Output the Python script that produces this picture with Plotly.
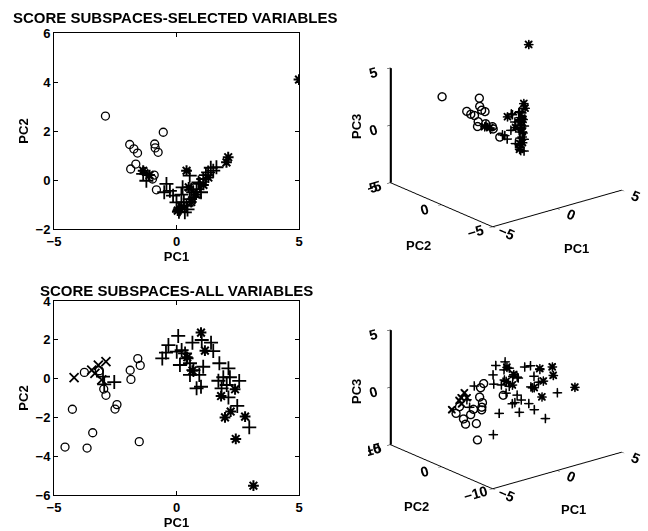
import plotly.graph_objects as go

# ---------------- data ----------------
# top (selected variables)
top_circle_pc1 = [-2.90, -0.54, -1.91, -1.74, -1.59, -0.89, -0.87, -0.75, -1.66, -1.87, -1.32, -0.91, -0.98, -0.82]
top_circle_pc2 = [2.61, 1.95, 1.45, 1.27, 1.10, 1.47, 1.31, 1.13, 0.65, 0.45, 0.35, 0.20, 0.04, -0.40]
top_circle_pc3 = [2.74, 2.12, 1.60, 1.36, 1.27, 1.70, 1.42, 1.33, 0.93, 0.65, 0.76, 0.43, 0.31, -0.28]

top_plus_pc1 = [-0.41, -0.27, -0.14, 0.00, 0.14, 0.34, 0.41, 0.54, 0.68, 0.82, 0.95, 1.09, 1.29, 1.50, 1.63,
                0.54, -1.36, -1.23, 0.20, 0.30, 0.60, 0.75, 0.90, 1.20, 0.10, 0.45, 1.00, 1.40, 0.25, -0.50]
top_plus_pc2 = [-0.16, -0.44, -0.64, -0.91, -1.19, -1.32, -1.05, -0.78, -0.50, -0.37, -0.16, 0.04, 0.31, 0.38, 0.52,
                0.18, 0.25, -0.03, -0.60, -0.90, -0.40, -0.70, -0.10, 0.20, -1.30, -1.20, -0.50, 0.50, -0.30, -0.50]
top_plus_pc3 = [-0.3, -0.6, 0.2, -0.9, -1.2, -1.5, -0.4, 0.5, -0.8, 0.9, -0.2, 0.4, 1.0, -0.5, 0.7,
                1.1, 0.7, 0.4, 0.8, -1.1, 0.3, -0.3, 1.2, -0.7, -1.4, 0.6, -1.0, 0.2, 1.3, -0.2]

top_star_pc1 = [5.00, 2.11, 2.04, 0.41, -1.36, -1.10, 0.20, 0.60, 1.10, 0.50, 0.05, 1.30, 0.80]
top_star_pc2 = [4.10, 0.93, 0.72, 0.38, 0.38, 0.20, -1.10, -0.90, -0.20, -0.30, -1.25, 0.10, -0.60]
top_star_pc3 = [4.20, 1.20, 0.90, 0.80, 0.50, 0.40, -0.90, 1.00, -0.50, 0.10, -1.30, 0.50, -1.20]

# bottom (all variables)
bot_circle_pc1 = [-4.55, -4.25, -3.76, -3.65, -3.42, -3.15, -2.97, -2.88, -2.51, -2.43, -1.89, -1.86, -1.58, -1.48, -1.52]
bot_circle_pc2 = [-3.53, -1.58, 0.32, -3.58, -2.79, 0.41, -0.54, -0.86, -1.57, -1.34, 0.43, -0.04, 1.03, 0.68, -3.25]
bot_circle_pc3 = [-0.75, 0.3, -0.8, -2.4, -1.2, -1.5, -1.0, -0.5, -0.3, -0.6, 0.0, -0.4, 0.6, 1.0, 0.75]

bot_x_pc1 = [-4.18, -2.88, -3.19, -3.46, -3.33, -3.05]
bot_x_pc2 = [0.05, 0.87, 0.70, 0.44, 0.27, -0.07]
bot_x_pc3 = [-0.3, 0.6, 0.3, 0.2, -0.1, 0.4]

bot_plus_pc1 = [-0.58, -0.43, -0.33, 0.07, 0.01, 0.14, 0.35, 0.41, 0.65, 0.55, 0.93, 0.82, 1.00, 1.03, 1.41, 1.50, 1.75,
                2.12, 1.71, 2.18, 2.56, 1.84, 2.05, 2.12, 2.48, 2.97, 0.21, 0.69, 1.09, 0.55, 1.91, -2.54, -3.00, -2.95]
bot_plus_pc2 = [1.04, 1.34, 1.73, 2.20, 1.39, 0.70, 1.30, 1.05, 1.85, 0.19, 0.19, -0.50, -0.42, 1.99, 1.85, 1.42, 0.79,
                0.53, -0.11, 0.07, -0.12, -0.50, -0.33, -0.97, -1.41, -2.51, 1.47, 0.44, 0.61, 0.79, 0.07, -0.18, 0.10, -0.30]
bot_plus_pc3 = [-3.8, 0.5, 1.2, 1.8, -2.2, 0.8, 1.5, -0.5, 2.0, -1.3, 0.9, -2.0, -1.0, 1.3, -1.8, 0.4, 1.4,
                -0.4, -1.6, 0.6, 1.1, -0.2, -2.2, 0.3, -2.9, -0.6, 0.2, 1.0, -0.8, 0.1, 1.6, 1.3, 0.2, -0.4]

bot_star_pc1 = [1.00, 1.16, 0.65, 1.82, 2.39, 1.98, 2.21, 2.80, 2.42, 3.14, 0.44]
bot_star_pc2 = [2.37, 1.44, 0.41, -0.90, -0.55, -2.00, -1.70, -1.96, -3.11, -5.52, 1.10]
bot_star_pc3 = [1.3, 0.8, 0.25, -0.1, 1.3, -0.75, 0.5, 1.6, 1.2, 0.4, 0.5]

x_ticks = [-5, 0, 5]
top_y_ticks = [-2, 0, 2, 4, 6]
bot_y_ticks = [-6, -4, -2, 0, 2, 4]
top_pc2_3d_ticks = [-5, 0, 5]
bot_pc2_3d_ticks = [-10, 0, 10]
pc3_ticks = [-5, 0, 5]
pc1_range = [-5, 5]
top_pc2_range = [-5, 5]
bot_pc2_range = [-10, 10]
pc3_range = [-5, 5]

titles = ["SCORE SUBSPACES-SELECTED VARIABLES", "SCORE SUBSPACES-ALL VARIABLES"]

# ---------------- figure ----------------
W, H = 648, 531
FAM = "Liberation Sans, Arial, sans-serif"
FONT = dict(family=FAM, size=13, color="black", weight="bold")
TFONT = dict(family=FAM, size=15, color="black", weight="bold")
fig = go.Figure()

def px_x(p):
    return p / W

def px_y(p):
    return 1 - p / H

def add2d(xa, ya, px, py, symbol, size, lw):
    fig.add_trace(go.Scatter(x=px, y=py, mode="markers", xaxis=xa, yaxis=ya, showlegend=False,
                             hoverinfo="skip",
                             marker=dict(symbol=symbol, size=size, color="black",
                                         line=dict(color="black", width=lw))))

# top-left 2D
add2d("x", "y", top_circle_pc1, top_circle_pc2, "circle-open", 8, 1.3)
add2d("x", "y", top_plus_pc1, top_plus_pc2, "cross-thin-open", 10, 1.8)
add2d("x", "y", top_star_pc1, top_star_pc2, "asterisk-open", 9, 2.0)
# bottom-left 2D
add2d("x2", "y2", bot_circle_pc1, bot_circle_pc2, "circle-open", 8, 1.3)
add2d("x2", "y2", bot_x_pc1, bot_x_pc2, "x-thin-open", 9, 1.8)
add2d("x2", "y2", bot_plus_pc1, bot_plus_pc2, "cross-thin-open", 10, 1.8)
add2d("x2", "y2", bot_star_pc1, bot_star_pc2, "asterisk-open", 9, 2.0)

def add3d(scene, a, b, c, symbol, size):
    fig.add_trace(go.Scatter3d(x=a, y=b, z=c, mode="markers", scene=scene, showlegend=False,
                               hoverinfo="skip",
                               marker=dict(symbol=symbol, size=size, color="black",
                                           line=dict(color="black", width=1))))

def add_zline(scene, pc1_rng, pc2_rng, ticks):
    # vertical PC3 axis line at the left corner of the box (taken from the axis ranges/ticks,
    # nudged a hair inside so it is not clipped away)
    inset = 0.995
    n = len(ticks)
    fig.add_trace(go.Scatter3d(x=[pc1_rng[0] * inset] * n, y=[pc2_rng[1] * inset] * n,
                               z=[t * inset for t in ticks],
                               mode="lines", scene=scene, showlegend=False, hoverinfo="skip",
                               line=dict(color="black", width=4)))

add3d("scene", top_circle_pc1, top_circle_pc2, top_circle_pc3, "circle-open", 5)
add3d("scene", top_plus_pc1, top_plus_pc2, top_plus_pc3, "cross", 5)
add3d("scene", top_star_pc1, top_star_pc2, top_star_pc3, "cross", 5)
add3d("scene", top_star_pc1, top_star_pc2, top_star_pc3, "x", 1.7)
add_zline("scene", pc1_range, top_pc2_range, pc3_ticks)

add3d("scene2", bot_circle_pc1, bot_circle_pc2, bot_circle_pc3, "circle-open", 5)
add3d("scene2", bot_x_pc1, bot_x_pc2, bot_x_pc3, "x", 1.7)
add3d("scene2", bot_plus_pc1, bot_plus_pc2, bot_plus_pc3, "cross", 5)
add3d("scene2", bot_star_pc1, bot_star_pc2, bot_star_pc3, "cross", 5)
add3d("scene2", bot_star_pc1, bot_star_pc2, bot_star_pc3, "x", 1.7)
add_zline("scene2", pc1_range, bot_pc2_range, pc3_ticks)

ax2d = dict(showgrid=False, zeroline=False, showline=True, linecolor="black", linewidth=1,
            mirror="ticks", ticks="inside", ticklen=4, tickcolor="black", tickwidth=1,
            tickfont=FONT, title_font=FONT, automargin=False)

fig.update_layout(
    width=W, height=H, margin=dict(l=0, r=0, t=0, b=0, autoexpand=False),
    paper_bgcolor="white", plot_bgcolor="white", font=FONT,
    xaxis=dict(ax2d, domain=[px_x(54), px_x(299)], range=pc1_range, tickvals=x_ticks,
               title=dict(text="PC1", standoff=0), anchor="y"),
    yaxis=dict(ax2d, domain=[px_y(229), px_y(33)], range=[-2, 6], tickvals=top_y_ticks,
               title=dict(text="PC2", standoff=4), anchor="x"),
    xaxis2=dict(ax2d, domain=[px_x(54), px_x(299)], range=pc1_range, tickvals=x_ticks,
                title=dict(text="PC1", standoff=0), anchor="y2"),
    yaxis2=dict(ax2d, domain=[px_y(495), px_y(301)], range=[-6, 4], tickvals=bot_y_ticks,
                title=dict(text="PC2", standoff=4), anchor="x2"),
)

def ax3d(rng, ticks):
    return dict(title=dict(text=""), range=rng, tickvals=ticks, showgrid=False,
                zeroline=False, showbackground=False, showline=True, linecolor="black", linewidth=2,
                ticks="outside", tickcolor="black", ticklen=4, tickfont=FONT, showspikes=False,
                autorange=False)

eye_dir = (-0.590, -0.728, 0.350)
d = 2.0
cam = dict(projection=dict(type="orthographic"), up=dict(x=0, y=0, z=1), center=dict(x=0, y=0, z=0),
           eye=dict(x=eye_dir[0] * d, y=eye_dir[1] * d, z=eye_dir[2] * d))
asp = dict(x=1.33, y=1.30, z=0.98)

fig.update_layout(
    scene=dict(domain=dict(x=[px_x(368), px_x(644)], y=[px_y(254), px_y(4)]),
               xaxis=ax3d(pc1_range, x_ticks), yaxis=ax3d(top_pc2_range, top_pc2_3d_ticks),
               zaxis=ax3d(pc3_range, pc3_ticks), camera=cam,
               aspectmode="manual", aspectratio=asp, dragmode=False),
    scene2=dict(domain=dict(x=[px_x(368), px_x(644)], y=[px_y(516), px_y(266)]),
                xaxis=ax3d(pc1_range, x_ticks), yaxis=ax3d(bot_pc2_range, bot_pc2_3d_ticks),
                zaxis=ax3d(pc3_range, pc3_ticks), camera=cam,
                aspectmode="manual", aspectratio=asp, dragmode=False),
)

fig.add_annotation(text=titles[0], xref="paper", yref="paper", x=px_x(11), y=px_y(17),
                   xanchor="left", yanchor="middle", showarrow=False, font=TFONT)
fig.add_annotation(text=titles[1], xref="paper", yref="paper", x=px_x(38), y=px_y(290),
                   xanchor="left", yanchor="middle", showarrow=False, font=TFONT)
# 3D axis titles
for label, xx, yy, ang in [("PC3", 356, 127, -90), ("PC2", 418, 246, 0), ("PC1", 576, 248, 0),
                           ("PC3", 356, 392, -90), ("PC2", 416, 506, 0), ("PC1", 573, 509, 0)]:
    fig.add_annotation(text=label, xref="paper", yref="paper", x=px_x(xx), y=px_y(yy),
                       xanchor="center", yanchor="middle", showarrow=False, font=FONT, textangle=ang)

fig.write_html("out.html", config={"displayModeBar": False})
